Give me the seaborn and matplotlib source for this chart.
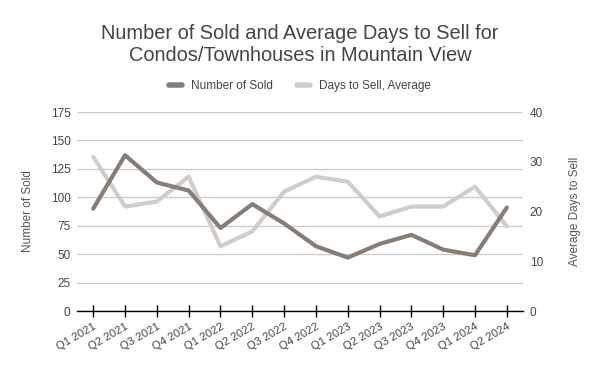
import matplotlib
matplotlib.use("Agg")
import matplotlib.pyplot as plt
import seaborn as sns
import pandas as pd
from matplotlib.lines import Line2D

quarters = ["Q1 2021", "Q2 2021", "Q3 2021", "Q4 2021", "Q1 2022", "Q2 2022", "Q3 2022",
            "Q4 2022", "Q1 2023", "Q2 2023", "Q3 2023", "Q4 2023", "Q1 2024", "Q2 2024"]
number_sold = [90, 137, 113, 106, 73, 94, 77, 57, 47, 59, 67, 54, 49, 91]
days_to_sell = [31, 21, 22, 27, 13, 16, 24, 27, 26, 19, 21, 21, 25, 17]

df = pd.DataFrame({"quarter": quarters, "x": range(len(quarters)),
                   "sold": number_sold, "days": days_to_sell})

sns.set_theme(style="white")
plt.rcParams['font.family'] = ['Liberation Sans', 'DejaVu Sans']

dark = "#877d76"
light = "#d1ccc8"
txt = "#444444"

fig = plt.figure(figsize=(6, 3.71), dpi=100)
ax = fig.add_axes([0.1278, 0.1617, 0.7434, 0.5363])
ax2 = ax.twinx()

sns.lineplot(data=df, x="x", y="days", ax=ax2, color=light, linewidth=3, legend=False)
sns.lineplot(data=df, x="x", y="sold", ax=ax, color=dark, linewidth=3, legend=False)
ax.set_zorder(ax2.get_zorder() + 1)
ax.patch.set_visible(False)

ax.set_xlim(-0.52, len(quarters) - 0.5)
ax.set_ylim(0, 175)
ax.set_yticks(range(0, 176, 25))
ax2.set_ylim(0, 40)
ax2.set_yticks([0, 10, 20, 30, 40])

ax.set_xticks(range(len(quarters)))
ax.set_xticklabels(quarters, rotation=30, ha="right", rotation_mode="anchor")

ax.grid(axis="y", color="#cccccc", linewidth=1)
ax.grid(axis="x", visible=False)
ax2.grid(False)
for a in (ax, ax2):
    for s in ("top", "left", "right"):
        a.spines[s].set_visible(False)
ax2.spines["bottom"].set_visible(False)
ax.spines["bottom"].set_color("black")
ax.spines["bottom"].set_linewidth(1)

ax.tick_params(axis="x", direction="inout", length=9, width=1, color="black",
               labelsize=8.2, labelcolor=txt, pad=3, bottom=True)
ax.tick_params(axis="y", length=0, labelsize=8.5, labelcolor=txt, pad=4.5)
ax2.tick_params(axis="y", length=0, labelsize=8.5, labelcolor=txt, pad=5)

ax.set_xlabel("")
ax.set_ylabel("Number of Sold", fontsize=8.5, color="#555555", labelpad=12)
ax2.set_ylabel("Average Days to Sell", fontsize=8.5, color="#555555", labelpad=18.5)

fig.text(0.5, 0.88, "Number of Sold and Average Days to Sell for\nCondos/Townhouses in Mountain View",
         ha="center", va="center", fontsize=14.4, color=txt, linespacing=1.18)

handles = [Line2D([], [], color=dark, linewidth=4), Line2D([], [], color=light, linewidth=4)]
fig.legend(handles, ["Number of Sold", "Days to Sell, Average"], loc="center",
           bbox_to_anchor=(0.5, 0.768), ncol=2, frameon=False, fontsize=8.5,
           handlelength=1.1, columnspacing=2.0, handletextpad=0.8,
           labelcolor=txt)

fig.savefig("out.png", dpi=100)
